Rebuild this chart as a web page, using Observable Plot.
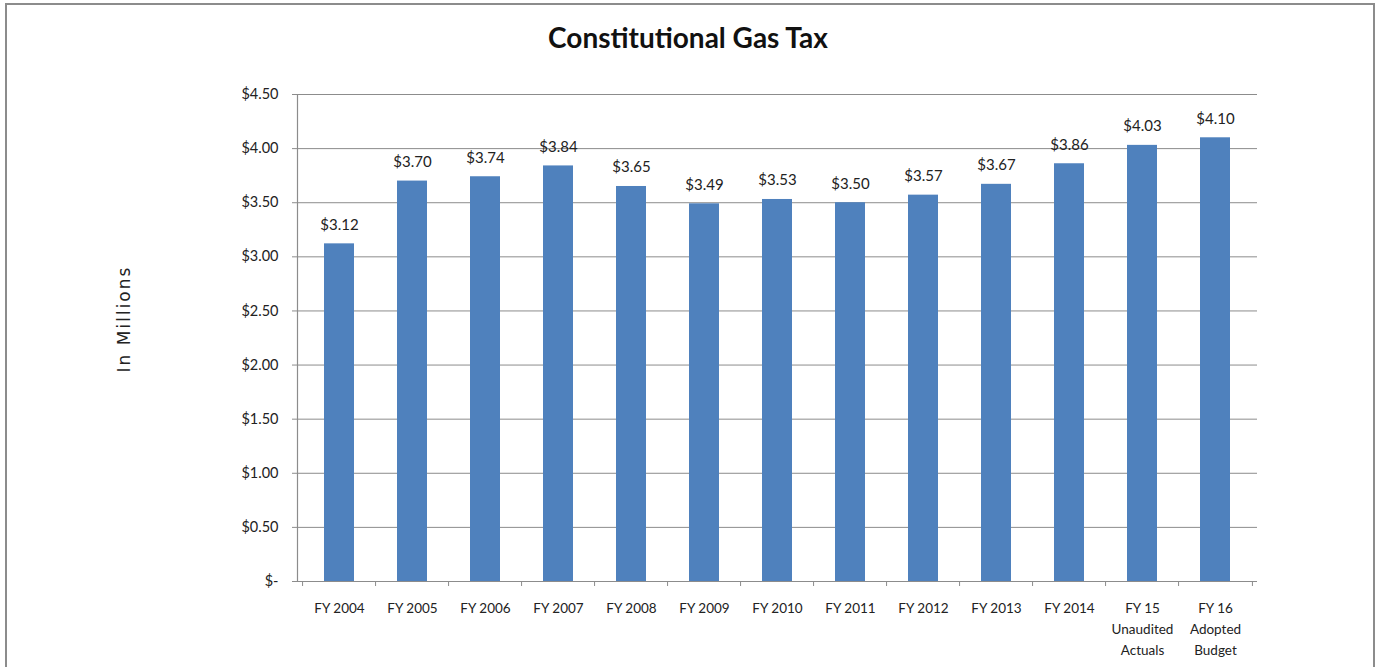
<!DOCTYPE html>
<html>
<head>
<meta charset="utf-8">
<script src="https://cdn.jsdelivr.net/npm/d3@7"></script>
<script src="https://cdn.jsdelivr.net/npm/@observablehq/plot@0.6"></script>
<style>
  html, body { margin: 0; padding: 0; background: #fff; }
  #wrap { position: relative; width: 1384px; height: 667px; overflow: hidden; }
  #border { position: absolute; left: 5px; top: 3px; width: 1370px; height: 700px; border: 2px solid #8c8c8c; box-sizing: border-box; }
  #title { position: absolute; left: -4px; width: 1384px; top: 19px; text-align: center; font: bold 28px Lato, "Open Sans", sans-serif; color: #111; line-height: 36px; }
  #ylabel { position: absolute; left: 124px; top: 319px; transform: translate(-50%, -50%) rotate(-90deg); font: 17px "DejaVu Sans", sans-serif; letter-spacing: 2px; color: #222; white-space: nowrap; }
  #chart { position: absolute; left: 0; top: 0; }
</style>
</head>
<body>
<div id="wrap">
  <div id="chart"></div>
  <div id="border"></div>
  <div id="title">Constitutional Gas Tax</div>
  <div id="ylabel">In Millions</div>
</div>
<script>
const categories = ["FY 2004","FY 2005","FY 2006","FY 2007","FY 2008","FY 2009","FY 2010","FY 2011","FY 2012","FY 2013","FY 2014","FY 15\nUnaudited\nActuals","FY 16\nAdopted\nBudget"];
const values = [3.12, 3.70, 3.74, 3.84, 3.65, 3.49, 3.53, 3.50, 3.57, 3.67, 3.86, 4.03, 4.10];
const yTicks = [0, 0.5, 1, 1.5, 2, 2.5, 3, 3.5, 4, 4.5];

const data = categories.map((c, i) => ({cat: c, value: values[i]}));

const W = 1384, H = 667, mL = 297, mR = 127, mT = 94, mB = 86;
const step = (W - mL - mR) / categories.length;
const gray = "#8c8c8c";
const font = "Lato, 'Open Sans', sans-serif";
const money = v => v === 0 ? "$-" : d3.format("$.2f")(v);

const chart = Plot.plot({
  width: W, height: H,
  marginLeft: mL, marginRight: mR, marginTop: mT, marginBottom: mB,
  style: {fontFamily: font, fontSize: "13px", color: "#222", background: "white"},
  x: {domain: categories, paddingInner: 0.59, paddingOuter: 0.295, label: null},
  y: {domain: [0, 4.5], label: null},
  marks: [
    Plot.gridY(yTicks, {stroke: gray, strokeOpacity: 1, strokeWidth: 1}),
    Plot.barY(data, {x: "cat", y: "value", fill: "#4f81bd"}),
    Plot.ruleY([0], {stroke: gray, strokeWidth: 1.2}),
    Plot.frame({anchor: "left", stroke: gray, strokeWidth: 1.2}),
    Plot.axisY(yTicks, {tickSize: 5, tickPadding: 14, stroke: gray, tickFormat: money, fontSize: 14.5, fill: "#222", label: null}),
    Plot.axisX({tickSize: 5, dx: -step / 2, text: null, stroke: gray, label: null}),
    Plot.axisX([categories[categories.length - 1]], {tickSize: 5, dx: step / 2, text: null, stroke: gray, label: null}),
    Plot.axisX({tickSize: 0, tickPadding: 17, fontSize: 13.5, lineHeight: 1.55, fill: "#222", label: null}),
    Plot.text(data, {x: "cat", y: "value", text: d => money(d.value), dy: -19, lineAnchor: "middle", fontSize: 15, fill: "#222"})
  ]
});
document.getElementById("chart").appendChild(chart);
</script>
</body>
</html>
